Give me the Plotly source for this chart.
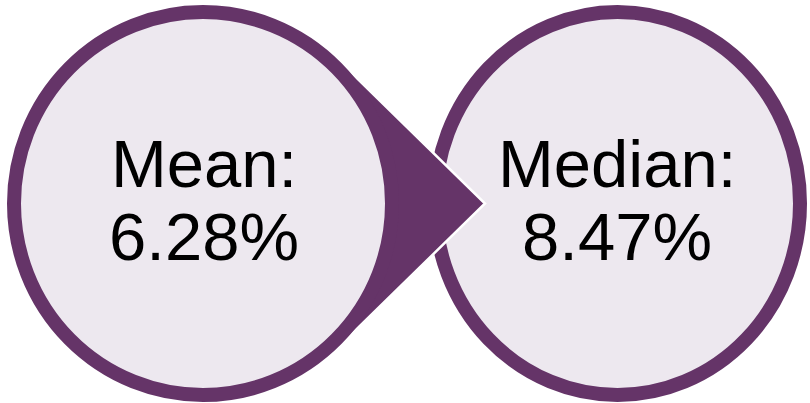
import math
import plotly.graph_objects as go

# ---- data ----
labels = ["Mean:", "Median:"]
values = [6.28, 8.47]

# ---- style / layout ----
W, H = 810, 403
PURPLE = "#653468"
FILL = "#EDE8EF"
BORDER = 14

# circle geometry (outer extents in px)
circles = [
    dict(cx=203.0, cy=203.5, rx=196.0, ry=198.5),
    dict(cx=617.5, cy=203.5, rx=189.5, ry=198.5),
]
tip = (485.0, 203.5)

fig = go.Figure()

shapes = []

def circle_shape(c):
    hw = BORDER / 2
    return dict(type="circle", xref="x", yref="y",
                x0=c["cx"] - c["rx"] + hw, x1=c["cx"] + c["rx"] - hw,
                y0=c["cy"] - c["ry"] + hw, y1=c["cy"] + c["ry"] - hw,
                fillcolor=FILL, line=dict(color=PURPLE, width=BORDER),
                layer="above")

# right circle first
shapes.append(circle_shape(circles[1]))

# arrow (tangent lines from tip to left circle)
c0 = circles[0]
dx = tip[0] - c0["cx"]
d = abs(dx)
r = c0["rx"]
ang = math.acos(r / d)
tx = c0["cx"] + r * math.cos(ang)
ty_up = c0["cy"] - c0["ry"] * math.sin(ang)
ty_dn = c0["cy"] + c0["ry"] * math.sin(ang)
path = (f"M {c0['cx']},{c0['cy']} L {tx},{ty_up} L {tip[0]},{tip[1]} "
        f"L {tx},{ty_dn} Z")
shapes.append(dict(type="path", xref="x", yref="y", path=path,
                   fillcolor=PURPLE, line=dict(color="white", width=2.5),
                   layer="above"))

# left circle on top
shapes.append(circle_shape(circles[0]))

annotations = []
text_x = [203.5, 617.0]
for i, (lab, val) in enumerate(zip(labels, values)):
    annotations.append(dict(x=text_x[i], y=163, xref="x", yref="y",
                            text=lab, showarrow=False,
                            xanchor="center", yanchor="middle",
                            font=dict(family="Liberation Sans, Arial", size=67, color="black")))
    annotations.append(dict(x=text_x[i], y=236.5, xref="x", yref="y",
                            text=f"{val:.2f}%", showarrow=False,
                            xanchor="center", yanchor="middle",
                            font=dict(family="Liberation Sans, Arial", size=67, color="black")))

fig.update_layout(
    width=W, height=H,
    margin=dict(l=0, r=0, t=0, b=0),
    paper_bgcolor="white", plot_bgcolor="white",
    xaxis=dict(range=[0, W], visible=False, fixedrange=True),
    yaxis=dict(range=[H, 0], visible=False, fixedrange=True),
    shapes=shapes, annotations=annotations,
    showlegend=False,
)

fig.write_html("out.html", config={"displayModeBar": False},
               post_script="document.body.style.margin='0';document.body.style.overflow='hidden';")
